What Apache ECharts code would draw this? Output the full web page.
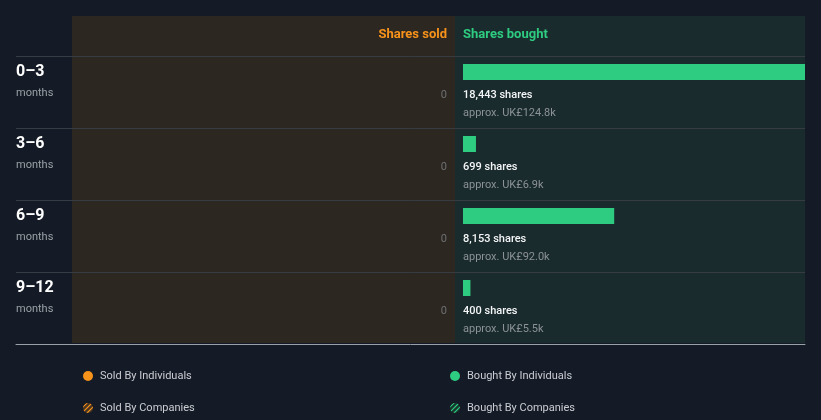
<!DOCTYPE html>
<html><head><meta charset="utf-8">
<script src="https://cdn.jsdelivr.net/npm/echarts@6/dist/echarts.min.js"></script>
<style>html,body{margin:0;padding:0;background:#151b26;}#c{width:821px;height:420px;}</style>
</head><body><div id="c"></div>
<script>
// ---- data ----
const periods = ['0–3', '3–6', '6–9', '9–12'];
const periodUnit = 'months';
const sharesSold = [0, 0, 0, 0];
const sharesBought = [18443, 699, 8153, 400];
const valueBought = ['UK£124.8k', 'UK£6.9k', 'UK£92.0k', 'UK£5.5k'];
const headerSold = 'Shares sold';
const headerBought = 'Shares bought';
const legendSold = ['Sold By Individuals', 'Sold By Companies'];
const legendBought = ['Bought By Individuals', 'Bought By Companies'];

// ---- styles ----
const FONT = 'Roboto, "Noto Sans", sans-serif';
const ORANGE = '#f7931a';
const GREEN = '#2ecc80';
const BG = '#151b26';

function hatchIcon(bg, stroke) {
  const svg = "<svg xmlns='http://www.w3.org/2000/svg' width='20' height='20'><defs><clipPath id='c'><circle cx='10' cy='10' r='10'/></clipPath></defs><g clip-path='url(#c)'><rect width='20' height='20' fill='" + bg + "'/><path d='M-6 14 L14 -6 M-1 19 L19 -1 M4 24 L24 4' stroke='" + stroke + "' stroke-width='2.4'/></g></svg>";
  return 'image://data:image/svg+xml;charset=utf-8,' + encodeURIComponent(svg);
}

const chart = echarts.init(document.getElementById('c'), null, {renderer: 'canvas'});

function rowGeom(api, idx) {
  const c = api.coord([0, idx]);
  const band = api.size([0, 1])[1];
  return {x: c[0], top: c[1] - band / 2};
}

function legendItem(name, icon, left, top) {
  return {data: [{name: name, icon: icon}], left: left, top: top, orient: 'horizontal',
    itemWidth: 10, itemHeight: 10, selectedMode: false,
    textStyle: {color: '#c9cdd2', fontSize: 11, fontFamily: FONT, lineHeight: 14, padding: [0, 0, 0, 2]}};
}

const option = {
  backgroundColor: BG,
  animation: false,
  textStyle: {fontFamily: FONT},
  graphic: [
    {type: 'rect', z: -10, shape: {x: 72, y: 16, width: 383, height: 327}, style: {fill: '#2d2722'}},
    {type: 'rect', z: -10, shape: {x: 455, y: 16, width: 350, height: 327}, style: {fill: '#1a2b2e'}},
    {type: 'text', x: 447, y: 35, style: {text: headerSold, fill: ORANGE, font: 'bold 13px ' + FONT, textAlign: 'right', textVerticalAlign: 'middle'}},
    {type: 'text', x: 463, y: 35, style: {text: headerBought, fill: GREEN, font: 'bold 13px ' + FONT, textAlign: 'left', textVerticalAlign: 'middle'}}
  ],
  legend: [
    legendItem(legendSold[0], 'circle', 78, 364),
    legendItem(legendSold[1], hatchIcon('#4a3520', ORANGE), 78, 396),
    legendItem(legendBought[0], 'circle', 445, 364),
    legendItem(legendBought[1], hatchIcon('#17362d', GREEN), 445, 396)
  ],
  grid: [
    {left: 16, right: 16, top: 56, height: 288},          // row labels & separators
    {left: 72, right: 374, top: 56, height: 288},          // sold
    {left: 463, right: 16, top: 56, height: 288}           // bought
  ],
  xAxis: [
    {gridIndex: 0, type: 'value', min: 0, max: 1, axisLine: {show: true, lineStyle: {color: '#9aa0a6', width: 1}}, axisTick: {show: false}, axisLabel: {show: false}, splitLine: {show: false}, z: 5},
    {gridIndex: 1, type: 'value', inverse: true, min: 0, max: 1, show: false},
    {gridIndex: 2, type: 'value', min: 0, max: 'dataMax', show: false}
  ],
  yAxis: [
    {gridIndex: 0, type: 'category', inverse: true, data: periods,
     axisLine: {show: false}, axisTick: {show: false},
     splitLine: {show: true, lineStyle: {color: '#363c42', width: 1}},
     axisLabel: {inside: true, margin: 0, align: 'left',
       formatter: v => '{a|' + v + '}\n{b|' + periodUnit + '}',
       padding: [0, 0, 19, 0],
       rich: {
         a: {fontSize: 16, fontWeight: 'bold', color: '#ffffff', lineHeight: 22, fontFamily: FONT},
         b: {fontSize: 11, color: '#9ba0a5', lineHeight: 22, fontFamily: FONT}
       }}},
    {gridIndex: 1, type: 'category', inverse: true, data: periods, show: false},
    {gridIndex: 2, type: 'category', inverse: true, data: periods, show: false}
  ],
  series: [
    {
      name: legendSold[0], type: 'custom', xAxisIndex: 1, yAxisIndex: 1,
      itemStyle: {color: ORANGE},
      data: sharesSold.map((v, i) => [v, i]),
      renderItem: (params, api) => {
        const idx = api.value(1);
        const g = rowGeom(api, idx);
        const e = api.coord([api.value(0), idx]);
        return {type: 'group', children: [
          {type: 'rect', shape: {x: e[0], y: g.top + 8, width: g.x - e[0], height: 16}, style: {fill: ORANGE}},
          {type: 'text', x: g.x, y: g.top + 39, style: {text: String(api.value(0)), fill: '#6e7073', font: '11px ' + FONT, textAlign: 'right', textVerticalAlign: 'middle'}}
        ]};
      }
    },
    {name: legendSold[1], type: 'custom', xAxisIndex: 1, yAxisIndex: 1, data: [],
     itemStyle: {color: ORANGE}, renderItem: () => null},
    {
      name: legendBought[0], type: 'custom', xAxisIndex: 2, yAxisIndex: 2,
      itemStyle: {color: GREEN},
      data: sharesBought.map((v, i) => [v, i]),
      renderItem: (params, api) => {
        const idx = api.value(1);
        const g = rowGeom(api, idx);
        const e = api.coord([api.value(0), idx]);
        const i = params.dataIndex;
        return {type: 'group', children: [
          {type: 'rect', shape: {x: g.x, y: g.top + 8, width: e[0] - g.x, height: 16}, style: {fill: GREEN}},
          {type: 'text', x: g.x, y: g.top + 39, style: {text: sharesBought[i].toLocaleString('en-US') + ' shares', fill: '#f4f5f6', font: '500 11px ' + FONT, textAlign: 'left', textVerticalAlign: 'middle'}},
          {type: 'text', x: g.x, y: g.top + 57, style: {text: 'approx. ' + valueBought[i], fill: '#8c9296', font: '11px ' + FONT, textAlign: 'left', textVerticalAlign: 'middle'}}
        ]};
      }
    },
    {name: legendBought[1], type: 'custom', xAxisIndex: 2, yAxisIndex: 2, data: [],
     itemStyle: {color: GREEN}, renderItem: () => null}
  ]
};
chart.setOption(option);
</script>
</body></html>
